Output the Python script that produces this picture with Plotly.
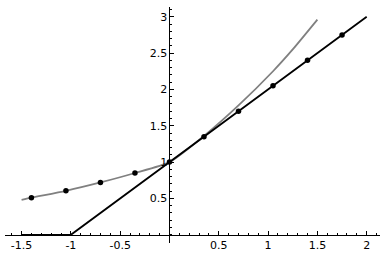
import plotly.graph_objects as go

# Gray curve
curve_x = [-1.5, -1.4, -1.05, -0.7, -0.35, 0.0, 0.35, 0.7, 1.05, 1.25, 1.5]
curve_y = [0.48, 0.51, 0.605, 0.72, 0.85, 1.0, 1.36, 1.78, 2.25, 2.55, 2.96]

# Black polyline
line_x = [-1.5, -1.0, 2.0]
line_y = [0.0, 0.0, 3.0]

# Dots on the curve (left) and on the line (right)
dots_curve_x = [-1.4, -1.05, -0.7, -0.35, 0.0]
dots_curve_y = [0.51, 0.605, 0.72, 0.85, 1.0]
dots_line_x = [0.35, 0.7, 1.05, 1.4, 1.75]
dots_line_y = [1.35, 1.7, 2.05, 2.4, 2.75]

# Ticks
x_tickvals = [-1.5, -1, -0.5, 0.5, 1, 1.5, 2]
x_ticktext = ["-1.5", "-1", "-0.5", "0.5", "1", "1.5", "2"]
y_tickvals = [0.5, 1, 1.5, 2, 2.5, 3]
y_ticktext = ["0.5", "1", "1.5", "2", "2.5", "3"]

x_range = [-1.668, 2.135]
y_range = [-0.113, 3.134]

fig = go.Figure()
fig.add_trace(go.Scatter(x=curve_x, y=curve_y, mode="lines",
                         line=dict(color="#808080", width=1.8, shape="spline", smoothing=0.6),
                         hoverinfo="skip"))
fig.add_trace(go.Scatter(x=line_x, y=line_y, mode="lines",
                         line=dict(color="black", width=1.8), hoverinfo="skip"))
fig.add_trace(go.Scatter(x=dots_curve_x + dots_line_x, y=dots_curve_y + dots_line_y,
                         mode="markers", marker=dict(color="black", size=5.5),
                         hoverinfo="skip"))

xpos = -y_range[0] / (y_range[1] - y_range[0])
ypos = -x_range[0] / (x_range[1] - x_range[0])

font = dict(family="DejaVu Sans", size=11, color="black")

fig.update_layout(
    width=388, height=257,
    margin=dict(l=5, r=8, t=7, b=12),
    paper_bgcolor="white", plot_bgcolor="white",
    showlegend=False,
    xaxis=dict(range=x_range, anchor="free", position=xpos,
               showgrid=False, zeroline=False, showline=True,
               linecolor="black", linewidth=1,
               ticks="inside", ticklen=4, tickcolor="black", tickwidth=1,
               tickvals=x_tickvals, ticktext=x_ticktext, tickfont=font,
               minor=dict(ticks="inside", ticklen=2, dtick=0.1, tick0=0,
                          tickcolor="black", showgrid=False)),
    yaxis=dict(range=y_range, anchor="free", position=ypos,
               showgrid=False, zeroline=False, showline=True,
               linecolor="black", linewidth=1,
               ticks="inside", ticklen=4, tickcolor="black", tickwidth=1,
               tickvals=y_tickvals, ticktext=y_ticktext, tickfont=font,
               minor=dict(ticks="inside", ticklen=2, dtick=0.1, tick0=0,
                          tickcolor="black", showgrid=False)),
)

fig.write_html("out.html",
               config={"displayModeBar": False, "staticPlot": True},
               post_script="document.body.style.margin='0';document.body.style.overflow='hidden';")
